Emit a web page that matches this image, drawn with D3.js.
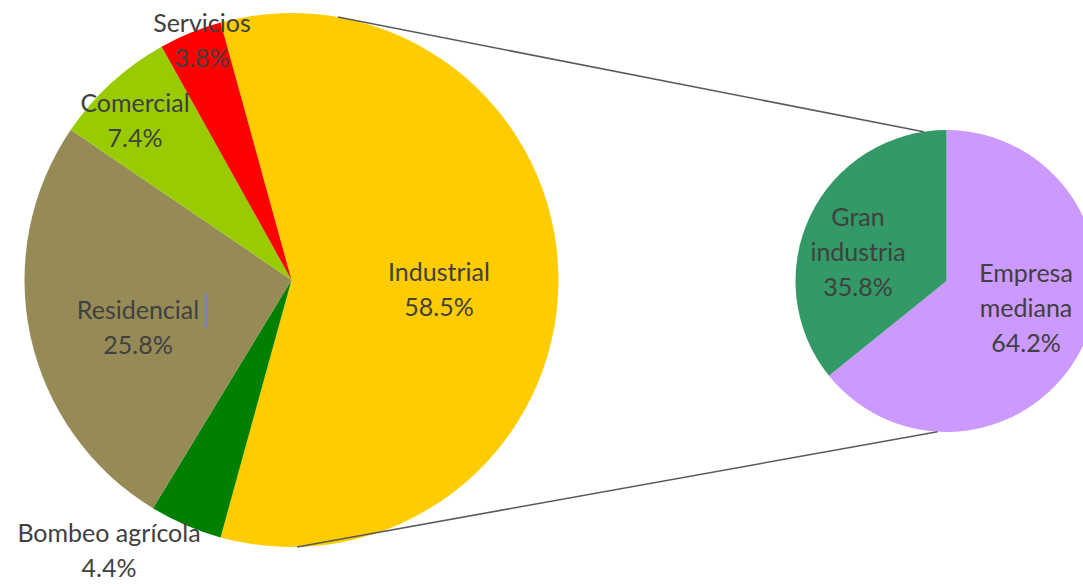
<!DOCTYPE html>
<html>
<head>
<meta charset="utf-8">
<script src="https://cdn.jsdelivr.net/npm/d3@7"></script>
<style>
  html, body { margin: 0; padding: 0; background: #fff; overflow: hidden; }
  svg { display: block; }
  text { font-family: Lato, "Open Sans", sans-serif; fill: #404040; }
</style>
</head>
<body>
<svg id="chart" width="1083" height="584"></svg>
<script>
// ---- data ----
const mainCategories = ["Industrial", "Bombeo agrícola", "Residencial", "Comercial", "Servicios"];
const mainValues = [58.5, 4.4, 25.8, 7.4, 3.8];
const mainColors = ["#FFCC00", "#008000", "#968B57", "#99CC00", "#FF0000"];

const subCategories = ["Empresa mediana", "Gran industria"];
const subValues = [64.2, 35.8];
const subColors = ["#CC99FF", "#339966"];

// label line breaks
const mainLabelLines = [["Industrial"], ["Bombeo agrícola"], ["Residencial"], ["Comercial"], ["Servicios"]];
const subLabelLines = [["Empresa", "mediana"], ["Gran", "industria"]];

// ---- layout ----
const svg = d3.select("#chart");
const main = { cx: 291.5, cy: 280, r: 267 };
const sub = { cx: 946.5, cy: 281, r: 151 };

const fmt = v => d3.format(".1f")(v) + "%";

const total = d3.sum(mainValues);
const start = Math.PI / 2 - (mainValues[0] / total) * Math.PI;

const mainPie = d3.pie().sort(null).value(d => d)
  .startAngle(start).endAngle(start + 2 * Math.PI);
const subPie = d3.pie().sort(null).value(d => d)
  .startAngle(0).endAngle(2 * Math.PI);

const mainArc = d3.arc().innerRadius(0).outerRadius(main.r);
const subArc = d3.arc().innerRadius(0).outerRadius(sub.r);

const gMain = svg.append("g").attr("transform", `translate(${main.cx},${main.cy})`);
gMain.selectAll("path").data(mainPie(mainValues)).join("path")
  .attr("d", mainArc)
  .attr("fill", (d, i) => mainColors[i]);

const gSub = svg.append("g").attr("transform", `translate(${sub.cx},${sub.cy})`);
gSub.selectAll("path").data(subPie(subValues)).join("path")
  .attr("d", subArc)
  .attr("fill", (d, i) => subColors[i]);

// connector lines (angles measured clockwise from top)
function pt(c, ang) {
  const a = ang * Math.PI / 180;
  return [c.cx + c.r * Math.sin(a), c.cy - c.r * Math.cos(a)];
}
const connectors = [
  [pt(main, 10), pt(sub, -8.7)],
  [pt(main, 178.8), pt(sub, 183.4)]
];
svg.selectAll("line.conn").data(connectors).join("line")
  .attr("class", "conn")
  .attr("x1", d => d[0][0]).attr("y1", d => d[0][1])
  .attr("x2", d => d[1][0]).attr("y2", d => d[1][1])
  .attr("stroke", "#5a5a5a").attr("stroke-width", 1.6);

// label anchor centers (first line center) in page coords
const mainLabelPos = [[439, 272], [109, 533], [138, 310], [135, 103], [202, 23]];
const subLabelPos = [[1026, 273], [858, 217]];
const lineGap = 35;
const fontSize = 25;

function drawLabels(cats, vals, lines, pos) {
  cats.forEach((c, i) => {
    const ls = lines[i].concat([fmt(vals[i])]);
    const t = svg.append("text")
      .attr("text-anchor", "middle")
      .attr("font-size", fontSize);
    ls.forEach((s, j) => {
      t.append("tspan")
        .attr("x", pos[i][0])
        .attr("y", pos[i][1] + j * lineGap)
        .attr("dy", "0.35em")
        .text(s);
    });
  });
}
drawLabels(mainCategories, mainValues, mainLabelLines, mainLabelPos);
drawLabels(subCategories, subValues, subLabelLines, subLabelPos);

// small cursor mark after "Residencial" seen in the reference
svg.append("line")
  .attr("x1", 206).attr("x2", 206).attr("y1", 293).attr("y2", 328)
  .attr("stroke", "#7a80b8").attr("stroke-width", 2.5);
</script>
</body>
</html>
